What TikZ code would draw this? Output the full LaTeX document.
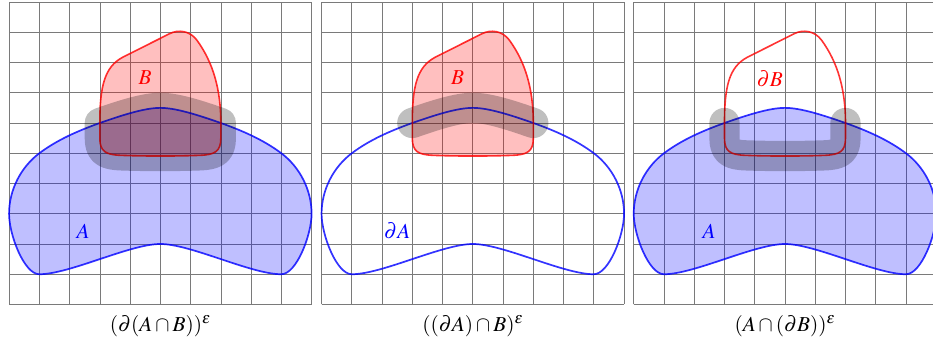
\documentclass[tikz,border=0pt]{standalone}
\usepackage{mathptmx}
\begin{document}
\begin{tikzpicture}[
  gridline/.style={line width=0.6pt, draw=black!52},
  Afill/.style={fill=blue, fill opacity=0.25},
  Bfill/.style={fill=red, fill opacity=0.25},
  Aline/.style={draw=blue, line width=1.6pt, draw opacity=0.8},
  Bline/.style={draw=red, line width=1.5pt, draw opacity=0.8},
  band/.style={draw=black, line width=1cm, line join=round, line cap=round},
  lbl/.style={font=\fontsize{20}{24}\selectfont, inner sep=1pt},
  captext/.style={font=\fontsize{20}{24}\selectfont, anchor=base, inner sep=0pt},
  Apath/.style={insert path={
    (5,6.5) .. controls (4.5,6.5) and (3.8,6.28) .. (3,6)
    .. controls (2.3,5.75) and (1.6,5.45) .. (1,5)
    .. controls (0.4,4.55) and (0,3.8) .. (0,3)
    .. controls (0,2.3) and (0.5,1) .. (1,1)
    .. controls (2,1) and (4,2) .. (5,2)
    .. controls (6,2) and (8,1) .. (9,1)
    .. controls (9.5,1) and (10,2.3) .. (10,3)
    .. controls (10,3.8) and (9.6,4.55) .. (9,5)
    .. controls (8.4,5.45) and (7.7,5.75) .. (7,6)
    .. controls (6.2,6.28) and (5.5,6.5) .. (5,6.5) -- cycle}},
  Bpath/.style={insert path={
    (3,6) .. controls (3,7.2) and (3.15,7.85) .. (3.75,8.17)
    -- (5.3,8.95) .. controls (5.6,9.1) and (5.97,9.05) .. (6.2,8.75)
    .. controls (6.75,8.0) and (7,7.1) .. (7,6)
    -- (7,5.5) .. controls (7,5.05) and (6.8,4.95) .. (6.3,4.93)
    .. controls (5.5,4.9) and (4.5,4.9) .. (3.7,4.93)
    .. controls (3.2,4.95) and (3,5.05) .. (3,5.5) -- cycle}},
  ABpath/.style={insert path={
    (3,6) .. controls (3.8,6.28) and (4.5,6.5) .. (5,6.5)
    .. controls (5.5,6.5) and (6.2,6.28) .. (7,6)
    -- (7,5.5) .. controls (7,5.05) and (6.8,4.95) .. (6.3,4.93)
    .. controls (5.5,4.9) and (4.5,4.9) .. (3.7,4.93)
    .. controls (3.2,4.95) and (3,5.05) .. (3,5.5) -- cycle}},
  Atop/.style={insert path={
    (3,6) .. controls (3.8,6.28) and (4.5,6.5) .. (5,6.5)
    .. controls (5.5,6.5) and (6.2,6.28) .. (7,6)}},
  Bbot/.style={insert path={
    (3,6) -- (3,5.5) .. controls (3,5.05) and (3.2,4.95) .. (3.7,4.93)
    .. controls (4.5,4.9) and (5.5,4.9) .. (6.3,4.93)
    .. controls (6.8,4.95) and (7,5.05) .. (7,5.5) -- (7,6)}}
]
\useasboundingbox (-0.3,-1.339) rectangle (30.543,10.066);

% Panel 1
\begin{scope}
  \draw[gridline] (0,0) grid (10,10);
  \fill[Afill, Apath];
  \fill[Bfill, Bpath];
  \path[Aline, Apath];
  \path[Bline, Bpath];
  \begin{scope}[transparency group, opacity=0.25]
    \filldraw[band, fill=black, ABpath];
  \end{scope}
  \node[lbl, text=red] (lB1) at (4.5,7.5) {$B$};
  \node[lbl, text=blue] (lA1) at (2.45,2.42) {$A$};
  \node[captext] (cap1) at (5,-0.88) {$(\partial(A\cap B))^{\varepsilon}$};
\end{scope}

% Panel 2
\begin{scope}[xshift=10.33cm]
  \draw[gridline] (0,0) grid (10,10);
  \fill[Bfill, Bpath];
  \path[Aline, Apath];
  \path[Bline, Bpath];
  \path[band, draw opacity=0.25, Atop];
  \node[lbl, text=red] (lB2) at (4.5,7.5) {$B$};
  \node[lbl, text=blue] (lA2) at (2.5,2.45) {$\partial A$};
  \node[captext] (cap2) at (5,-0.88) {$((\partial A)\cap B)^{\varepsilon}$};
\end{scope}

% Panel 3
\begin{scope}[xshift=20.65cm]
  \draw[gridline] (0,0) grid (10,10);
  \fill[Afill, Apath];
  \path[Aline, Apath];
  \path[Bline, Bpath];
  \path[band, draw opacity=0.25, Bbot];
  \node[lbl, text=red] (lB3) at (4.5,7.46) {$\partial B$};
  \node[lbl, text=blue] (lA3) at (2.49,2.43) {$A$};
  \node[captext] (cap3) at (5,-0.88) {$(A\cap(\partial B))^{\varepsilon}$};
\end{scope}
\end{tikzpicture}
\end{document}
